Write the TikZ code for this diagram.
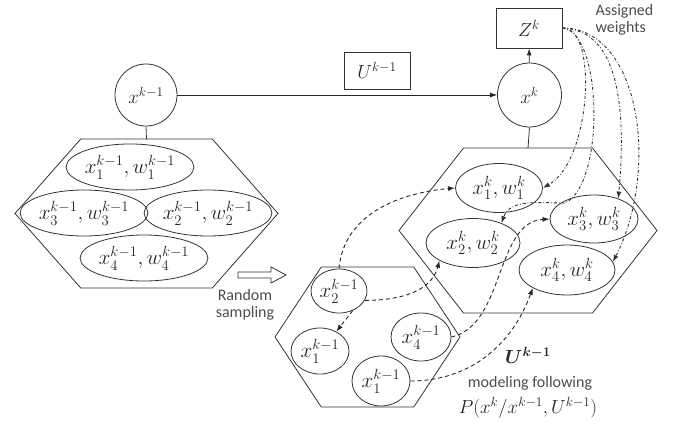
\documentclass[tikz,border=0pt]{standalone}
\usepackage{fix-cm}
\usepackage{amsmath}
\usepackage[no-math]{fontspec}
\setmainfont{Carlito}
\usepackage{tikz}
\usetikzlibrary{arrows.meta,shapes.geometric}
\newcommand\mathfsize{\fontsize{19}{22}\selectfont}
\newcommand\partfsize{\fontsize{21}{24}\selectfont}
\newcommand\textfsize{\fontsize{16}{17}\selectfont}
\def\hexframe[#1](#2,#3)(#4:#5){\draw[frame] (#2-#4,#3) -- (#2-#4/2,#3-#5) -- (#2+#4/2,#3-#5) -- (#2+#4,#3) -- (#2+#4/2,#3+#5) -- (#2-#4/2,#3+#5) -- cycle; \coordinate (#1) at (#2,#3-#5);}

\tikzset{
  frame/.style={draw=black!80, line width=0.8pt},
  stnode/.style={frame, circle, inner sep=0pt, font=\mathfsize, text=black!85},
  pnode/.style={frame, ellipse, inner sep=0pt, font=\partfsize, text=black!85},
  boxnode/.style={frame, rectangle, inner sep=0pt, font=\mathfsize, text=black!85},
  note/.style={font=\textfsize, text=black!70},
  flow/.style={draw=black!85, line width=0.9pt, -{Latex[length=7pt,width=5pt]}},
  move/.style={draw=black!85, line width=0.9pt, dash pattern=on 4pt off 3pt, -{Latex[length=7pt,width=5pt]}},
  wgt/.style={draw=black!80, line width=0.9pt, dash pattern=on 3pt off 2pt on 0.8pt off 2pt, -{Latex[length=7pt,width=5pt]}}
}

\begin{document}
\begin{tikzpicture}[x=1pt,y=-1pt]
  \useasboundingbox (0,0) rectangle (674,423);

  %%%%% states and input
  \node[stnode, minimum size=62pt] (xprev) at (146,95) {$x^{k-1}$};
  \node[stnode, minimum size=64pt] (xk) at (529.5,95) {$x^{k}$};
  \node[boxnode, minimum width=66pt, minimum height=40pt] (Zk) at (529,28) {$Z^{k}$};
  \node[boxnode, minimum width=66pt, minimum height=37pt] (Uprev) at (377,70.5) {$U^{k-1}$};

  \draw[flow] (xprev) -- (xk);
  \draw[flow] (xk) -- (Zk);

  %%%%% particle sets
  \hexframe[hexL](146.5,213.5)(131.5:74.5)
  \hexframe[hexR](528,230.5)(129:82.5)
  \hexframe[hexM](367.5,337)(92.5:70)

  \draw[frame] (xprev.south) -- (hexL);
  \draw[frame] (xk.south) -- (hexR);

  \node[pnode, minimum width=126pt, minimum height=46pt] (e1) at (130,167) {$x_1^{k-1},w_1^{k-1}$};
  \node[pnode, minimum width=124pt, minimum height=46pt] (e3) at (84,213) {$x_3^{k-1},w_3^{k-1}$};
  \node[pnode, minimum width=122pt, minimum height=46pt] (e2) at (208,213) {$x_2^{k-1},w_2^{k-1}$};
  \node[pnode, minimum width=124pt, minimum height=46pt] (e4) at (144,258) {$x_4^{k-1},w_4^{k-1}$};

  \node[pnode, minimum width=87pt, minimum height=49pt] (f1) at (499,188) {$x_1^{k},w_1^{k}$};
  \node[pnode, minimum width=94pt, minimum height=49pt] (f2) at (473,243) {$x_2^{k},w_2^{k}$};
  \node[pnode, minimum width=88pt, minimum height=48pt] (f3) at (594,219) {$x_3^{k},w_3^{k}$};
  \node[pnode, minimum width=96pt, minimum height=50pt] (f4) at (567,270) {$x_4^{k},w_4^{k}$};

  \node[pnode, minimum width=56pt, minimum height=44pt] (p2) at (339,291) {$x_2^{k-1}$};
  \node[pnode, minimum width=58pt, minimum height=46pt] (p1) at (320,351) {$x_1^{k-1}$};
  \node[pnode, minimum width=60pt, minimum height=48pt] (p4) at (421,337) {$x_4^{k-1}$};
  \node[pnode, minimum width=58pt, minimum height=50pt] (p1b) at (381,381) {$x_1^{k-1}$};

  %%%%% sampling
  \draw[frame] (238,272) -- (271,272) -- (271,267) -- (286,275) -- (271,283) -- (271,278) -- (238,278) -- cycle;
  \node[note, align=center] (sampling) at (245,305) {Random\\sampling};

  %%%%% propagation
  \draw[move] (p2.north) to[out=85,in=185] (f1.west);
  \draw[move] (p2.-20) to[out=0,in=-105] (f2.south west);
  \draw[move] (p2.-55) -- (p1.50);
  \draw[move] (p4.east) .. controls (505,325) and (495,222) .. (f3.west);
  \draw[move] (p1b.east) to[out=0,in=-110] (f4.south west);

  \node[font=\mathfsize, text=black!85] (ubold) at (528,355) {$\boldsymbol{U^{k-1}}$};
  \node[note] (model) at (530,383) {modeling following};
  \node[font=\mathfsize, text=black!85] (trans) at (528,408) {$P(x^k/x^{k-1},U^{k-1})$};

  %%%%% weights
  \node[note, align=left, anchor=west] (weights) at (592,20) {Assigned\\weights};
  \draw[wgt] (Zk.east) .. controls (598,26) and (592,160) .. (f1.east);
  \draw[wgt] (Zk.east) .. controls (603,32) and (605,185) .. (565,203) to[out=180,in=70] (f2.35);
  \draw[wgt] (Zk.east) .. controls (612,30) and (628,90) .. (f3.40);
  \draw[wgt] (Zk.east) .. controls (640,28) and (660,170) .. (f4.10);
\end{tikzpicture}
\end{document}
